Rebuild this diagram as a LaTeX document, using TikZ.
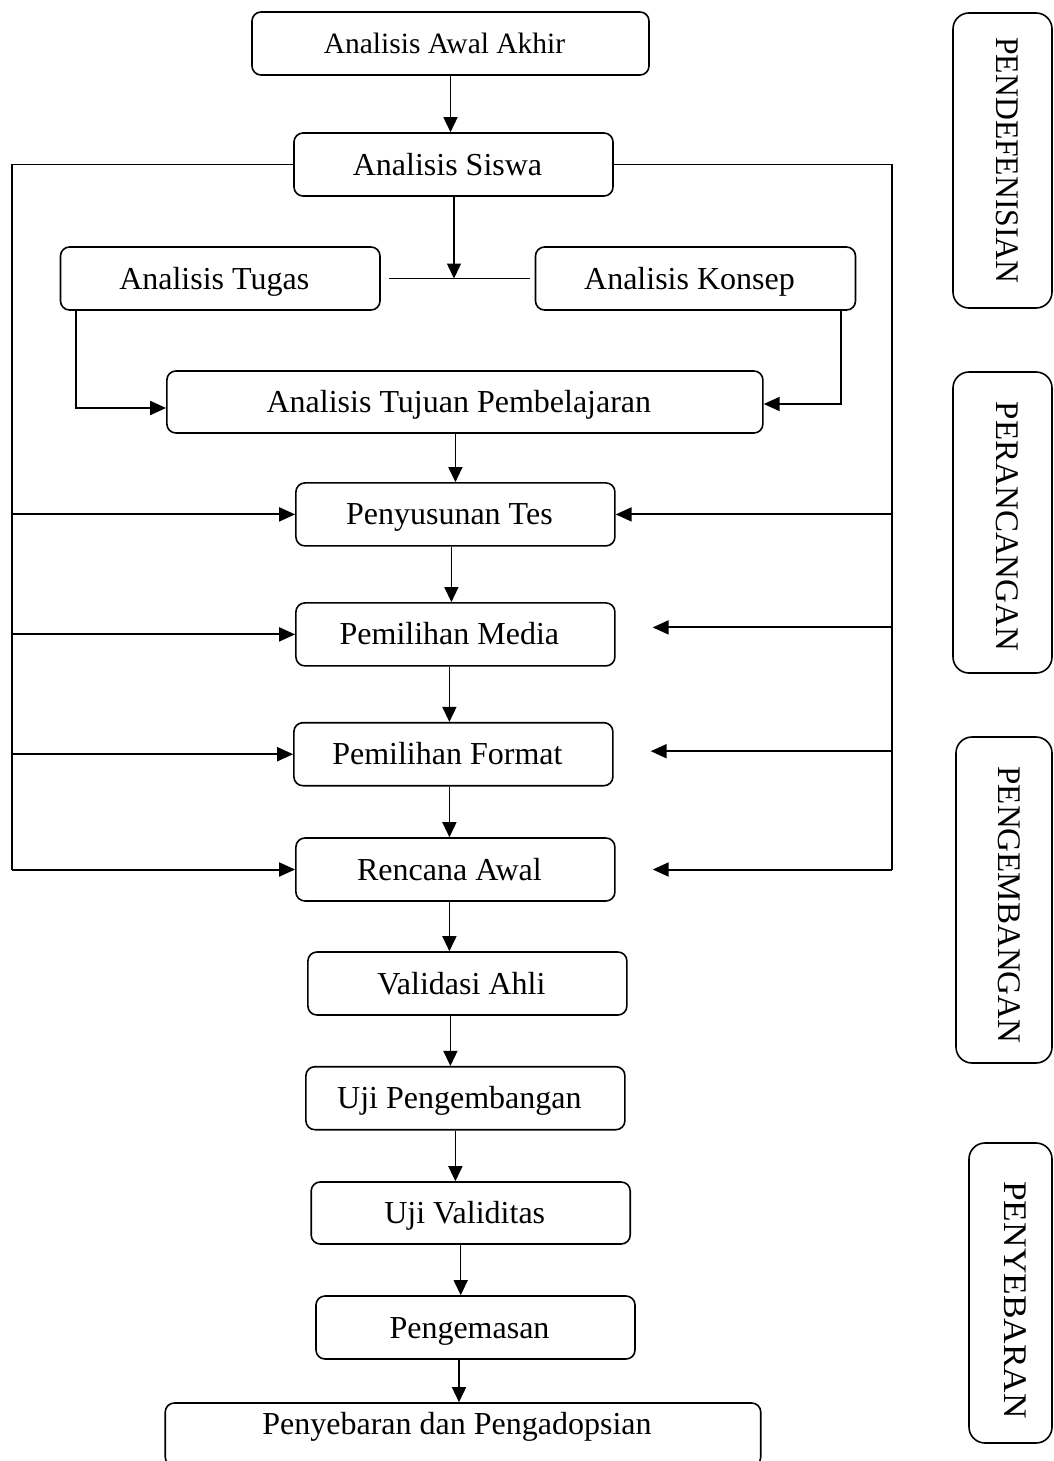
\documentclass[tikz,border=0pt]{standalone}
\usepackage{fontspec}
\setmainfont{Liberation Serif}
\usepackage{graphicx}
\usetikzlibrary{arrows.meta}
\begin{document}
\begin{tikzpicture}[x=1pt,y=-1pt,
  box/.style={draw,rounded corners=9pt,line width=1.6pt,inner sep=0pt,
    font=\fontsize{32}{38}\selectfont,text height=21pt,text depth=0pt,
    minimum height=63pt,execute at end node=\hspace*{12pt}},
  phase/.style={draw,rounded corners=16pt,line width=1.6pt,rotate=-90,inner sep=0pt,
    font=\fontsize{33}{40}\selectfont,text height=22pt,text depth=10pt},
  varrow/.style={line width=1.5pt,-{Triangle[length=15pt,width=14pt]}},
  harrow/.style={line width=2pt,-{Triangle[length=16pt,width=14pt]}},
  conn/.style={line width=1.8pt}]
\useasboundingbox (0,0) rectangle (1053,1461);

% main boxes
\node[box,minimum width=397pt,font=\fontsize{29.5}{35}\selectfont,text height=19.5pt] (a1) at (450.5,43.5) {Analisis Awal Akhir};
\node[box,minimum width=319pt] (sw) at (453.5,164.5) {Analisis Siswa};
\node[box,minimum width=319.5pt] (tg) at (220.25,278.5) {Analisis Tugas};
\node[box,minimum width=320pt] (kp) at (695.5,278.5) {Analisis Konsep};
\node[box,minimum width=596pt,minimum height=62pt] (tj) at (464.9,402) {Analisis Tujuan Pembelajaran};
\node[box,minimum width=319pt] (pt) at (455.4,514.4) {Penyusunan Tes};
\node[box,minimum width=319pt] (pm) at (455.4,634.4) {Pemilihan Media};
\node[box,minimum width=319pt] (pf) at (453.4,754.2) {Pemilihan Format};
\node[box,minimum width=319pt] (rc) at (455.4,869.5) {Rencana Awal};
\node[box,minimum width=319pt] (va) at (467.4,983.5) {Validasi Ahli};
\node[box,minimum width=319pt] (up) at (465.4,1098.2) {Uji Pengembangan};
\node[box,minimum width=319pt,minimum height=62pt] (uv) at (470.7,1213) {Uji Validitas};
\node[box,minimum width=319pt] (pg) at (475.5,1327.5) {Pengemasan};
\node[box,minimum width=595.5pt,text height=12pt,text depth=12pt] (pp) at (463,1434.5) {Penyebaran dan Pengadopsian};

% phase boxes
\node[phase,minimum width=295pt,minimum height=99pt] (ph1) at (1002.5,160.5) {\scalebox{0.96}[1]{PENDEFENISIAN}};
\node[phase,minimum width=301pt,minimum height=99pt] (ph2) at (1002.5,522.5) {\hspace*{8pt}PERANCANGAN};
\node[phase,minimum width=326pt,minimum height=96pt] (ph3) at (1004,900) {\hspace*{10pt}PENGEMBANGAN};
\node[phase,minimum width=300pt,minimum height=83pt] (ph4) at (1010.5,1293) {\hspace*{14pt}\scalebox{1.07}[1]{PENYEBARAN}};

% main flow
\draw[varrow] (a1.south) -- (a1.south |- sw.north);
\draw[conn] ([xshift=8pt]tg.east) -- ([xshift=-5pt]kp.west);
\draw[varrow] ([xshift=0.5pt]sw.south) -- ([xshift=0.5pt]sw.south |- tg.east);
\draw[harrow] ([xshift=16.5pt]tg.south west) |- ([yshift=-6pt]tj.west);
\draw[harrow] ([xshift=-15.5pt]kp.south east) |- ([yshift=-2pt]tj.east);
\draw[varrow] (pt.north |- tj.south) -- (pt.north);
\draw[varrow] ([xshift=-4pt]pt.south) -- ([xshift=-4pt]pm.north);
\draw[varrow] ([xshift=-6pt]pm.south) -- ([xshift=-6pt]pm.south |- pf.north);
\draw[varrow] ([xshift=-4pt]pf.south) -- ([xshift=-4pt]pf.south |- rc.north);
\draw[varrow] ([xshift=-6pt]rc.south) -- ([xshift=-6pt]rc.south |- va.north);
\draw[varrow] ([xshift=-17pt]va.south) -- ([xshift=-17pt]va.south |- up.north);
\draw[varrow] ([xshift=-10pt]up.south) -- ([xshift=-10pt]up.south |- uv.north);
\draw[varrow] ([xshift=-10pt]uv.south) -- ([xshift=-10pt]uv.south |- pg.north);
\draw[varrow] ([xshift=-16.5pt]pg.south) -- ([xshift=-16.5pt]pg.south |- pp.north);

% feedback lines
\coordinate (L) at (12,161);
\coordinate (R) at (892,161);
\draw[conn] (sw.west) -| (L |- rc.west);
\draw[conn] (sw.east) -| (R |- rc.east);
\draw[harrow] (L |- pt.west) -- (pt.west);
\draw[harrow] (L |- pm.west) -- (pm.west);
\draw[harrow] (L |- pf.west) -- (pf.west);
\draw[harrow] (L |- rc.west) -- (rc.west);
\draw[harrow] (R |- pt.east) -- (pt.east);
\coordinate (pmr) at ([yshift=7pt,xshift=37pt]pm.east);
\coordinate (pfr) at ([yshift=3pt,xshift=37pt]pf.east);
\coordinate (rcr) at ([xshift=37pt]rc.east);
\draw[harrow] (R |- pmr) -- (pmr);
\draw[harrow] (R |- pfr) -- (pfr);
\draw[harrow] (R |- rcr) -- (rcr);
\end{tikzpicture}
\end{document}
